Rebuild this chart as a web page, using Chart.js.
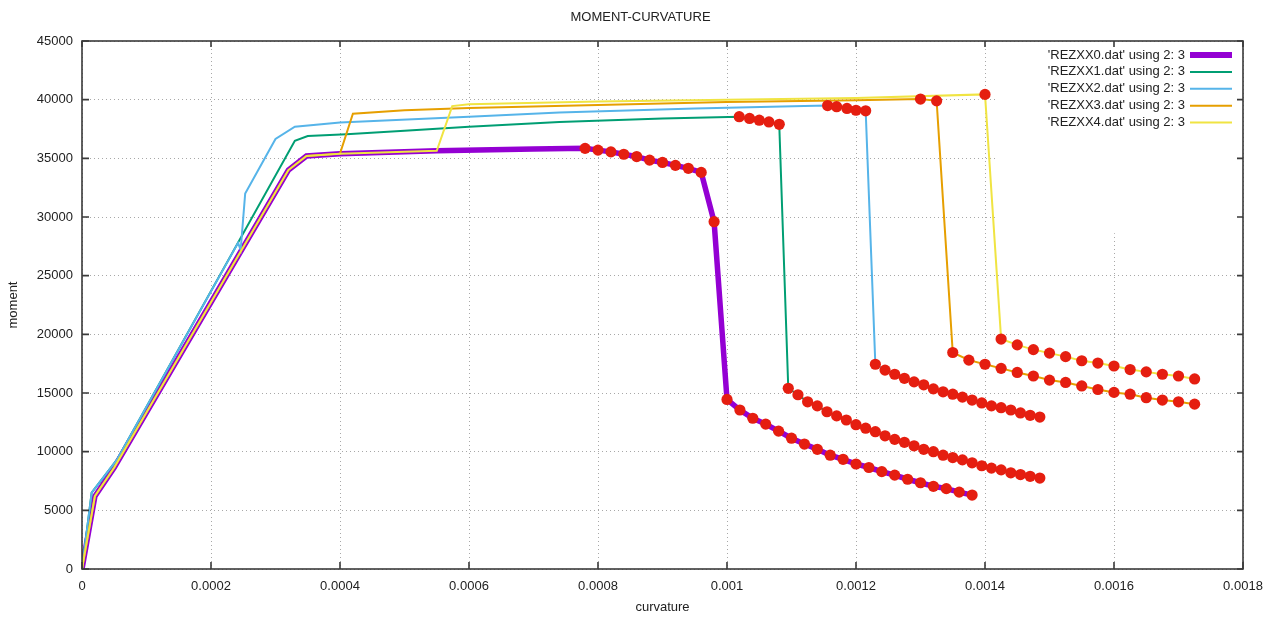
<!DOCTYPE html>
<html>
<head>
<meta charset="utf-8">
<title>MOMENT-CURVATURE</title>
<script src="https://cdn.jsdelivr.net/npm/chart.js@4.4.1/dist/chart.umd.min.js"></script>
<style>
  html, body { margin: 0; padding: 0; background: #fff; }
  canvas { display: block; }
</style>
</head>
<body>
<canvas id="mkChart" width="1281" height="621"></canvas>
<script>
// values (curvature, moment)
const chartTitle = "MOMENT-CURVATURE";
const seriesNames = [
  "'REZXX0.dat' using 2: 3",
  "'REZXX1.dat' using 2: 3",
  "'REZXX2.dat' using 2: 3",
  "'REZXX3.dat' using 2: 3",
  "'REZXX4.dat' using 2: 3"
];
const seriesColors = ["#9400d3", "#009e73", "#56b4e9", "#e69f00", "#f0e442"];
const seriesWidths = [5.5, 2, 2, 2, 2];
const markerColor = "#e51e10";

const xTickValues = [0, 0.0002, 0.0004, 0.0006, 0.0008, 0.001, 0.0012, 0.0014, 0.0016, 0.0018];
const xTickLabels = ["0", "0.0002", "0.0004", "0.0006", "0.0008", "0.001", "0.0012", "0.0014", "0.0016", "0.0018"];
const yTickValues = [0, 5000, 10000, 15000, 20000, 25000, 30000, 35000, 40000, 45000];
const yTickLabels = ["0", "5000", "10000", "15000", "20000", "25000", "30000", "35000", "40000", "45000"];

// REZXX0
const rez0LineX = [0, 0.00002, 0.00005, 0.00032, 0.000348, 0.0004, 0.00055, 0.0007];
const rez0LineY = [0, 6200, 8650, 34000, 35200, 35400, 35650, 35800];
const rez0DotX = [0.00078, 0.0008, 0.00082, 0.00084, 0.00086, 0.00088, 0.0009, 0.00092, 0.00094, 0.00096, 0.00098,
  0.001, 0.00102, 0.00104, 0.00106, 0.00108, 0.0011, 0.00112, 0.00114, 0.00116, 0.00118,
  0.0012, 0.00122, 0.00124, 0.00126, 0.00128, 0.0013, 0.00132, 0.00134, 0.00136, 0.00138];
const rez0DotY = [35850, 35700, 35550, 35350, 35150, 34850, 34650, 34400, 34150, 33800, 29600,
  14450, 13550, 12850, 12350, 11750, 11150, 10650, 10200, 9700, 9350,
  8950, 8650, 8300, 8000, 7650, 7350, 7050, 6850, 6550, 6300];

// REZXX1
const rez1LineX = [0, 0.000015, 0.000054, 0.00033, 0.00035, 0.00041, 0.0005, 0.0006, 0.00074, 0.0009];
const rez1LineY = [0, 6500, 9300, 36500, 36900, 37050, 37350, 37700, 38100, 38400];
const rez1DotX = [0.001019, 0.001035, 0.00105, 0.001065, 0.001081,
  0.001095, 0.00111, 0.001125, 0.00114, 0.001155, 0.00117, 0.001185, 0.0012, 0.001215, 0.00123,
  0.001245, 0.00126, 0.001275, 0.00129, 0.001305, 0.00132, 0.001335, 0.00135, 0.001365, 0.00138,
  0.001395, 0.00141, 0.001425, 0.00144, 0.001455, 0.00147, 0.001485];
const rez1DotY = [38550, 38400, 38250, 38100, 37900,
  15400, 14850, 14250, 13900, 13400, 13050, 12700, 12300, 12000, 11700,
  11350, 11050, 10800, 10500, 10200, 10000, 9700, 9500, 9300, 9050,
  8800, 8600, 8450, 8200, 8050, 7900, 7750];

// REZXX2
const rez2LineX = [0, 0.000015, 0.000054, 0.000242, 0.000246, 0.000253, 0.0003, 0.00033, 0.0004, 0.0006, 0.00074, 0.00095, 0.00112];
const rez2LineY = [0, 6500, 9300, 27800, 27200, 32000, 36650, 37700, 38050, 38550, 38900, 39250, 39450];
const rez2DotX = [0.001156, 0.00117, 0.001186, 0.0012, 0.001215,
  0.00123, 0.001245, 0.00126, 0.001275, 0.00129, 0.001305, 0.00132, 0.001335, 0.00135,
  0.001365, 0.00138, 0.001395, 0.00141, 0.001425, 0.00144, 0.001455, 0.00147, 0.001485];
const rez2DotY = [39500, 39400, 39250, 39100, 39050,
  17450, 16950, 16600, 16250, 15950, 15700, 15350, 15100, 14900,
  14650, 14400, 14150, 13900, 13750, 13550, 13300, 13100, 12950];

// REZXX3
const rez3LineX = [0, 0.00002, 0.00005, 0.00032, 0.000348, 0.0004, 0.00042, 0.0005, 0.0006, 0.0008, 0.001, 0.0012];
const rez3LineY = [0, 6200, 8650, 34000, 35200, 35400, 38800, 39100, 39300, 39550, 39800, 39950];
const rez3DotX = [0.0013, 0.001325,
  0.00135, 0.001375, 0.0014, 0.001425, 0.00145, 0.001475, 0.0015, 0.001525,
  0.00155, 0.001575, 0.0016, 0.001625, 0.00165, 0.001675, 0.0017, 0.001725];
const rez3DotY = [40050, 39900,
  18450, 17800, 17450, 17100, 16750, 16450, 16100, 15900,
  15600, 15300, 15050, 14900, 14600, 14400, 14250, 14050];

// REZXX4
const rez4LineX = [0, 0.00002, 0.00005, 0.00032, 0.000348, 0.0004, 0.00055, 0.000574, 0.0006, 0.0008, 0.001, 0.0012];
const rez4LineY = [0, 6200, 8650, 34000, 35200, 35400, 35650, 39450, 39600, 39850, 40000, 40150];
const rez4DotX = [0.0014,
  0.001425, 0.00145, 0.001475, 0.0015, 0.001525, 0.00155, 0.001575,
  0.0016, 0.001625, 0.00165, 0.001675, 0.0017, 0.001725];
const rez4DotY = [40450,
  19600, 19100, 18700, 18400, 18100, 17750, 17550,
  17300, 17000, 16800, 16600, 16450, 16200];

// corner of the key box, which hides the grid behind it
const keyMaskX = 0.00142;
const keyMaskY = 28700;

function toPoints(xs, ys) {
  return xs.map(function (x, i) {
    return { x: x, y: ys[i] };
  });
}

const lineX = [rez0LineX, rez1LineX, rez2LineX, rez3LineX, rez4LineX];
const lineY = [rez0LineY, rez1LineY, rez2LineY, rez3LineY, rez4LineY];
const dotX = [rez0DotX, rez1DotX, rez2DotX, rez3DotX, rez4DotX];
const dotY = [rez0DotY, rez1DotY, rez2DotY, rez3DotY, rez4DotY];

let datasets = [];
for (let i = 0; i < seriesNames.length; i++) {
  datasets.push({
    label: seriesNames[i],
    data: toPoints(lineX[i].concat(dotX[i]), lineY[i].concat(dotY[i])),
    showLine: true,
    borderColor: seriesColors[i],
    backgroundColor: seriesColors[i],
    borderWidth: seriesWidths[i],
    pointRadius: 0,
    tension: 0,
    order: 5 - i,
  });
}
let markerPoints = [];
for (let i = 0; i < dotX.length; i++) {
  markerPoints = markerPoints.concat(toPoints(dotX[i], dotY[i]));
}
datasets.push({
  label: "markers",
  data: markerPoints,
  showLine: false,
  pointRadius: 5.6,
  pointBackgroundColor: markerColor,
  pointBorderWidth: 0,
  order: 0,
});

// gnuplot look: closed frame, inward ticks, title and key inside the plot
const gnuplotFrame = {
  id: "gnuplotFrame",
  beforeDatasetsDraw(chart) {
    const ctx = chart.ctx;
    const a = chart.chartArea;
    const x0 = chart.scales.x.getPixelForValue(keyMaskX);
    const y1 = chart.scales.y.getPixelForValue(keyMaskY);
    ctx.save();
    ctx.fillStyle = "#fff";
    ctx.fillRect(x0, a.top + 1, a.right - x0 - 1, y1 - a.top);
    ctx.restore();
  },
  afterDraw(chart) {
    const ctx = chart.ctx;
    const a = chart.chartArea;
    const sx = chart.scales.x;
    const sy = chart.scales.y;
    ctx.save();
    ctx.strokeStyle = "#3a3a3a";
    ctx.lineWidth = 1.6;
    ctx.strokeRect(a.left, a.top, a.right - a.left, a.bottom - a.top);
    ctx.beginPath();
    xTickValues.forEach(function (v) {
      const px = sx.getPixelForValue(v);
      ctx.moveTo(px, a.bottom);
      ctx.lineTo(px, a.bottom - 7);
      ctx.moveTo(px, a.top);
      ctx.lineTo(px, a.top + 6);
    });
    yTickValues.forEach(function (v) {
      const py = sy.getPixelForValue(v);
      ctx.moveTo(a.left, py);
      ctx.lineTo(a.left + 7, py);
      ctx.moveTo(a.right, py);
      ctx.lineTo(a.right - 6, py);
    });
    ctx.stroke();

    ctx.fillStyle = "#222";
    ctx.font = "13px 'Liberation Sans', Arial, sans-serif";
    ctx.textAlign = "center";
    ctx.textBaseline = "middle";
    ctx.fillText(chartTitle, chart.width / 2, 17);

    // key
    ctx.textAlign = "right";
    for (let i = 0; i < seriesNames.length; i++) {
      const y = a.top + 14 + i * 16.9;
      ctx.fillStyle = "#222";
      ctx.fillText(seriesNames[i], a.right - 58, y);
      ctx.beginPath();
      ctx.strokeStyle = seriesColors[i];
      ctx.lineWidth = i === 0 ? 6 : 2;
      ctx.moveTo(a.right - 53, y);
      ctx.lineTo(a.right - 11, y);
      ctx.stroke();
    }
    ctx.restore();
  },
};

Chart.defaults.font.family = "'Liberation Sans', Arial, sans-serif";
Chart.defaults.font.size = 13;
Chart.defaults.color = "#222";

new Chart(document.getElementById("mkChart"), {
  type: "scatter",
  data: { datasets: datasets },
  options: {
    responsive: false,
    animation: false,
    layout: { padding: { top: 41, right: 38, left: 0, bottom: 0 } },
    plugins: {
      legend: { display: false },
      title: { display: false },
      tooltip: { enabled: false },
    },
    scales: {
      x: {
        type: "linear",
        min: 0,
        max: 0.0018,
        afterBuildTicks: function (scale) {
          scale.ticks = xTickValues.map(function (v) { return { value: v }; });
        },
        afterFit: function (scale) {
          scale.height = 52;
        },
        ticks: {
          padding: 10,
          maxRotation: 0,
          autoSkip: false,
          callback: function (value, index) {
            return xTickLabels[index];
          },
        },
        grid: { color: "#a8a8a8", lineWidth: 1, drawTicks: false },
        border: { display: false, dash: [1, 3] },
        title: { display: true, text: "curvature", padding: { top: 2, bottom: 6 } },
      },
      y: {
        type: "linear",
        min: 0,
        max: 45000,
        afterBuildTicks: function (scale) {
          scale.ticks = yTickValues.map(function (v) { return { value: v }; });
        },
        afterFit: function (scale) {
          scale.width = 82;
        },
        ticks: {
          padding: 9,
          autoSkip: false,
          callback: function (value, index) {
            return yTickLabels[index];
          },
        },
        grid: { color: "#a8a8a8", lineWidth: 1, drawTicks: false },
        border: { display: false, dash: [1, 3] },
        title: { display: true, text: "moment", padding: { top: 6, bottom: 4 } },
      },
    },
  },
  plugins: [gnuplotFrame],
});
</script>
</body>
</html>
